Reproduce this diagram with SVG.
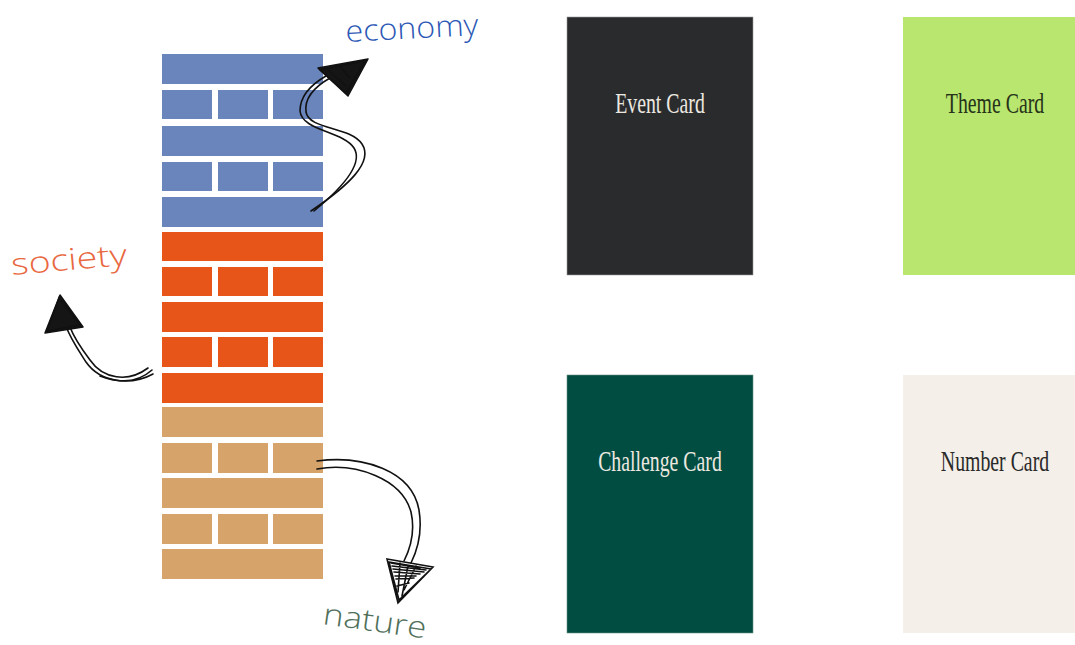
<svg xmlns="http://www.w3.org/2000/svg" width="1075" height="645" viewBox="0 0 1075 645">
<style>
.blue{fill:#6a84bc}.orange{fill:#e85518}.tan{fill:#d6a46a}
.hand{font-family:"Open Sans","DejaVu Sans",sans-serif;font-size:30px;font-weight:300}
.cardtxt{font-family:"Liberation Serif",serif;font-size:30px;text-anchor:middle}
.ink{fill:none;stroke:#111;stroke-width:1.6;stroke-linecap:round}
.head{fill:#151515;stroke:#111;stroke-width:1.5;stroke-linejoin:round}
</style>
<rect width="1075" height="645" fill="#fff"/>
<g id="tower">
<g id="economy-bricks" class="blue">
<rect x="162" y="54" width="161" height="30"/>
<rect x="162" y="90" width="50" height="29"/><rect x="218" y="90" width="50" height="29"/><rect x="273" y="90" width="50" height="29"/>
<rect x="162" y="126" width="161" height="30"/>
<rect x="162" y="162" width="50" height="29"/><rect x="218" y="162" width="50" height="29"/><rect x="273" y="162" width="50" height="29"/>
<rect x="162" y="197" width="161" height="30"/>
</g>
<g id="society-bricks" class="orange">
<rect x="162" y="232" width="161" height="29"/>
<rect x="162" y="267" width="50" height="29"/><rect x="218" y="267" width="50" height="29"/><rect x="273" y="267" width="50" height="29"/>
<rect x="162" y="302" width="161" height="30"/>
<rect x="162" y="337" width="50" height="30"/><rect x="218" y="337" width="50" height="30"/><rect x="273" y="337" width="50" height="30"/>
<rect x="162" y="373" width="161" height="30"/>
</g>
<g id="nature-bricks" class="tan">
<rect x="162" y="407" width="161" height="30"/>
<rect x="162" y="443" width="50" height="30"/><rect x="218" y="443" width="50" height="30"/><rect x="273" y="443" width="50" height="30"/>
<rect x="162" y="478" width="161" height="30"/>
<rect x="162" y="514" width="50" height="30"/><rect x="218" y="514" width="50" height="30"/><rect x="273" y="514" width="50" height="30"/>
<rect x="162" y="549" width="161" height="30"/>
</g>
</g>
<g id="connectors">
<g id="arrow-economy">
<path class="ink" d="M311,211 C348,186 374,162 362,144 C350,126 309,130 306,112 C304,97 316,86 330,78"/>
<path class="ink" d="M314,211 C342,188 364,164 354,148 C343,131 302,131 300,111 C300,95 312,84 326,76"/>
<polygon class="head" points="368,59 318,68 348,96"/>
<path class="ink" d="M320,70 L365,61 L346,93 Z M328,70 L346,86 M340,66 L350,78"/>
</g>
<g id="arrow-society">
<path class="ink" d="M152,370 C132,388 100,382 86,362 C77,348 70,338 66,326"/>
<path class="ink" d="M148,368 C128,383 103,379 90,360 C81,348 74,338 70,327"/>
<path class="ink" d="M153,374 C135,384 115,382 100,376"/>
<polygon class="head" points="60,295 45,333 83,327"/>
<path class="ink" d="M59,298 L47,331 L80,325 Z"/>
</g>
<g id="arrow-nature">
<path class="ink" d="M317,461 C362,455 412,470 419,510 C423,535 416,553 411,563"/>
<path class="ink" d="M317,469 C356,462 402,479 411,512 C416,534 409,551 404,561"/>
<path class="ink" d="M387,559 L433,567 L398,603 Z M389,562 L431,569 L399,600 Z"/>
<path class="ink" d="M392,566 L426,570 M394,572 L420,574 M396,579 L414,578 M397,586 L409,583 M400,563 L398,592 M408,566 L402,596 M416,566 L404,590 M391,563 L420,568 M393,569 L424,572 M395,576 L416,576"/>
</g>
</g>
<g id="labels">
<text id="label-economy" class="hand" fill="#2c58b5" x="346" y="42" textLength="133" lengthAdjust="spacingAndGlyphs" transform="rotate(-3 346 42)">economy</text>
<text id="label-society" class="hand" fill="#e9683f" x="12" y="275" textLength="116" lengthAdjust="spacingAndGlyphs" transform="rotate(-5 12 275)">society</text>
<text id="label-nature" class="hand" fill="#4f6f5a" x="322" y="624" textLength="104" lengthAdjust="spacingAndGlyphs" transform="rotate(8 322 624)">nature</text>
</g>
<g id="card-event">
<rect x="567" y="17" width="186" height="258" fill="#2a2b2d" stroke="#999" stroke-width="0.6"/>
<text class="cardtxt" fill="#ece8e0" transform="translate(660 113) scale(0.66 1)">Event Card</text>
</g>
<g id="card-theme">
<rect x="903" y="17" width="172" height="258" fill="#b9e66f"/>
<text class="cardtxt" fill="#263318" transform="translate(995 113) scale(0.66 1)">Theme Card</text>
</g>
<g id="card-challenge">
<rect x="567" y="375" width="186" height="258" fill="#024d42" stroke="#6a8f88" stroke-width="0.6"/>
<text class="cardtxt" fill="#ece8e0" transform="translate(660 471) scale(0.66 1)">Challenge Card</text>
</g>
<g id="card-number">
<rect x="903" y="375" width="172" height="258" fill="#f4efe8"/>
<text class="cardtxt" fill="#2a2a2a" transform="translate(995 471) scale(0.66 1)">Number Card</text>
</g>
</svg>
